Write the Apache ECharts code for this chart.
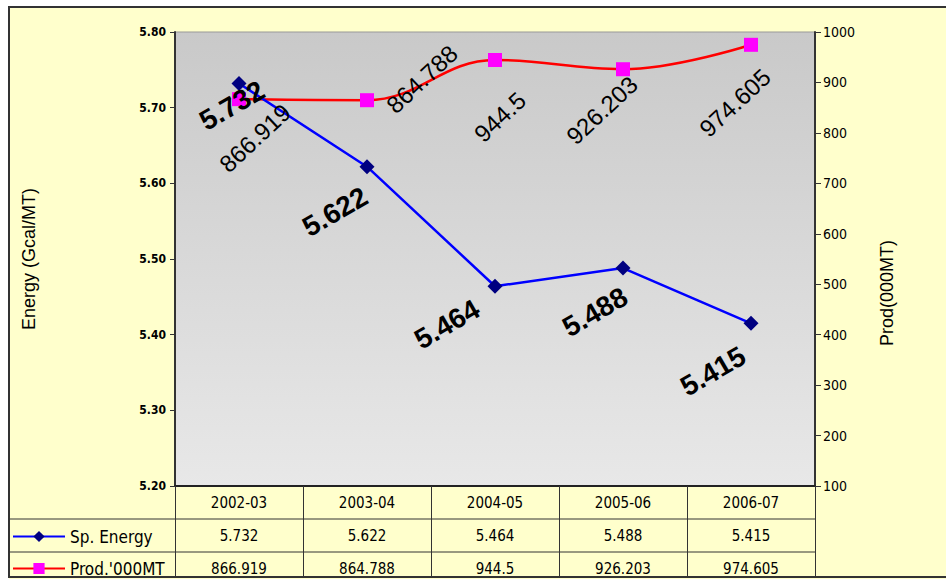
<!DOCTYPE html>
<html>
<head>
<meta charset="utf-8">
<script src="https://cdn.jsdelivr.net/npm/echarts@6/dist/echarts.min.js"></script>
<style>
  html, body { margin: 0; padding: 0; background: #fff; }
  #main { width: 946px; height: 579px; }
</style>
</head>
<body>
<div id="main"></div>
<script>
// 数据
var years = ['2002-03', '2003-04', '2004-05', '2005-06', '2006-07'];
var spEnergy = [5.732, 5.622, 5.464, 5.488, 5.415];
var prod = [866.919, 864.788, 944.5, 926.203, 974.605];
var energyTicks = { min: 5.2, max: 5.8, step: 0.1 };
var prodTicks = { min: 100, max: 1000, step: 100 };

// 标签偏移(屏幕坐标, 布局用)
var blueOff = [[-7, 22], [-32, 45], [-48, 38], [-28, 44], [-38, 48]];
var redOff = [[16, 39], [55, -21], [5, 57], [-21, 41], [-16, 58]];
var BLUE_ROT = 30, RED_ROT = 43;

var NARROW = '"DejaVu Sans Condensed", "DejaVu Sans", sans-serif';
var ARIAL = '"Liberation Sans", Arial, sans-serif';

var G = { left: 175, right: 815, top: 32, bottom: 486, row: 33 };
var W = 946, H = 579;

// 屏幕偏移 -> 旋转后标签的局部偏移
function toLocal(off, deg) {
    var t = deg * Math.PI / 180, c = Math.cos(t), s = Math.sin(t);
    return [off[0] * c - off[1] * s, off[0] * s + off[1] * c];
}

var dom = document.getElementById('main');
var myChart = echarts.init(dom, null, { renderer: 'svg' });

function tableAxis(vals, off) {
    return {
        type: 'category',
        gridIndex: 0,
        position: 'bottom',
        offset: off,
        data: vals.map(String),
        axisLine: { show: false },
        axisTick: { show: false },
        axisLabel: { margin: 9, fontFamily: NARROW, fontSize: 15, color: '#000' }
    };
}

function legendRow(name, top) {
    return {
        orient: 'vertical',
        left: 12,
        top: top,
        padding: 0,
        itemWidth: 52,
        itemHeight: 14,
        data: [name],
        textStyle: { fontFamily: NARROW, fontSize: 17, color: '#000' }
    };
}

var option = {
    backgroundColor: '#FFFFCC',
    animation: false,
    grid: {
        left: G.left, right: W - G.right, top: G.top, bottom: H - G.bottom,
        show: true,
        borderColor: '#999',
        borderWidth: 1,
        backgroundColor: new echarts.graphic.LinearGradient(0, 0, 0, 1, [
            { offset: 0, color: '#C9C9C9' },
            { offset: 1, color: '#E8E8E8' }
        ])
    },
    legend: [
        legendRow('Sp. Energy', 528),
        legendRow("Prod.'000MT", 560)
    ],
    xAxis: [
        {
            type: 'category',
            data: years,
            boundaryGap: true,
            axisLine: { lineStyle: { color: '#222', width: 2 } },
            axisTick: { show: true, length: H - G.bottom - 2, lineStyle: { color: '#333' } },
            axisLabel: { margin: 9, fontFamily: NARROW, fontSize: 15, color: '#000' }
        },
        tableAxis(spEnergy, G.row),
        tableAxis(prod, G.row * 2)
    ],
    yAxis: [
        {
            type: 'value',
            min: energyTicks.min, max: energyTicks.max, interval: energyTicks.step,
            name: 'Energy (Gcal/MT)',
            nameLocation: 'middle',
            nameGap: 137,
            nameTextStyle: { fontFamily: ARIAL, fontSize: 18, color: '#000' },
            axisLine: { show: true, lineStyle: { color: '#333', width: 2 } },
            axisTick: { show: true, length: 5, lineStyle: { color: '#333' } },
            axisLabel: {
                margin: 9, fontFamily: NARROW, fontSize: 12, fontWeight: 'bold', color: '#000',
                formatter: function (v) { return v.toFixed(2); }
            },
            splitLine: { show: false }
        },
        {
            type: 'value',
            position: 'right',
            min: prodTicks.min, max: prodTicks.max, interval: prodTicks.step,
            axisLine: { show: true, lineStyle: { color: '#333', width: 2 } },
            axisTick: { show: true, length: 6, lineStyle: { color: '#333' } },
            axisLabel: {
                margin: 8, fontFamily: NARROW, fontSize: 14, color: '#000',
                formatter: function (v) { return String(v); }
            },
            splitLine: { show: false }
        }
    ],
    series: [
        {
            name: "Prod.'000MT",
            type: 'line',
            yAxisIndex: 1,
            smooth: 0.4,
            symbol: 'rect',
            symbolSize: 14,
            itemStyle: { color: '#FF00FF' },
            lineStyle: { color: '#FF0000', width: 2.5 },
            label: {
                show: true, position: 'inside', rotate: RED_ROT,
                fontFamily: ARIAL, fontSize: 24, color: '#000'
            },
            data: prod.map(function (v, i) {
                return { value: v, label: { offset: toLocal(redOff[i], RED_ROT) } };
            })
        },
        {
            name: 'Sp. Energy',
            type: 'line',
            yAxisIndex: 0,
            symbol: 'diamond',
            symbolSize: 15,
            itemStyle: { color: '#000080' },
            lineStyle: { color: '#0000FF', width: 2.5 },
            label: {
                show: true, position: 'inside', rotate: BLUE_ROT,
                fontFamily: ARIAL, fontSize: 28, fontWeight: 'bold', color: '#000'
            },
            data: spEnergy.map(function (v, i) {
                return { value: v, label: { offset: toLocal(blueOff[i], BLUE_ROT) } };
            })
        }
    ],
    graphic: [
        // 外框
        { type: 'rect', shape: { x: 0, y: 0, width: W, height: 7 }, style: { fill: '#fff' }, silent: true },
        { type: 'rect', shape: { x: 0, y: 0, width: 9, height: H }, style: { fill: '#fff' }, silent: true },
        { type: 'rect', shape: { x: 9, y: 7, width: W, height: H - 9 }, style: { fill: 'none', stroke: '#333', lineWidth: 2 }, silent: true },
        // 表格横线
        { type: 'line', shape: { x1: 9, y1: G.bottom + G.row, x2: G.right, y2: G.bottom + G.row }, style: { stroke: '#333', lineWidth: 1 }, silent: true },
        { type: 'line', shape: { x1: 9, y1: G.bottom + G.row * 2, x2: G.right, y2: G.bottom + G.row * 2 }, style: { stroke: '#333', lineWidth: 1 }, silent: true },
        // 右轴标题
        {
            type: 'text', x: 887, y: 293, rotation: Math.PI / 2,
            style: { text: 'Prod(000MT)', fontFamily: ARIAL, fontSize: 18, fill: '#000', align: 'center', verticalAlign: 'middle' },
            silent: true
        }
    ]
};

myChart.setOption(option);
</script>
</body>
</html>
